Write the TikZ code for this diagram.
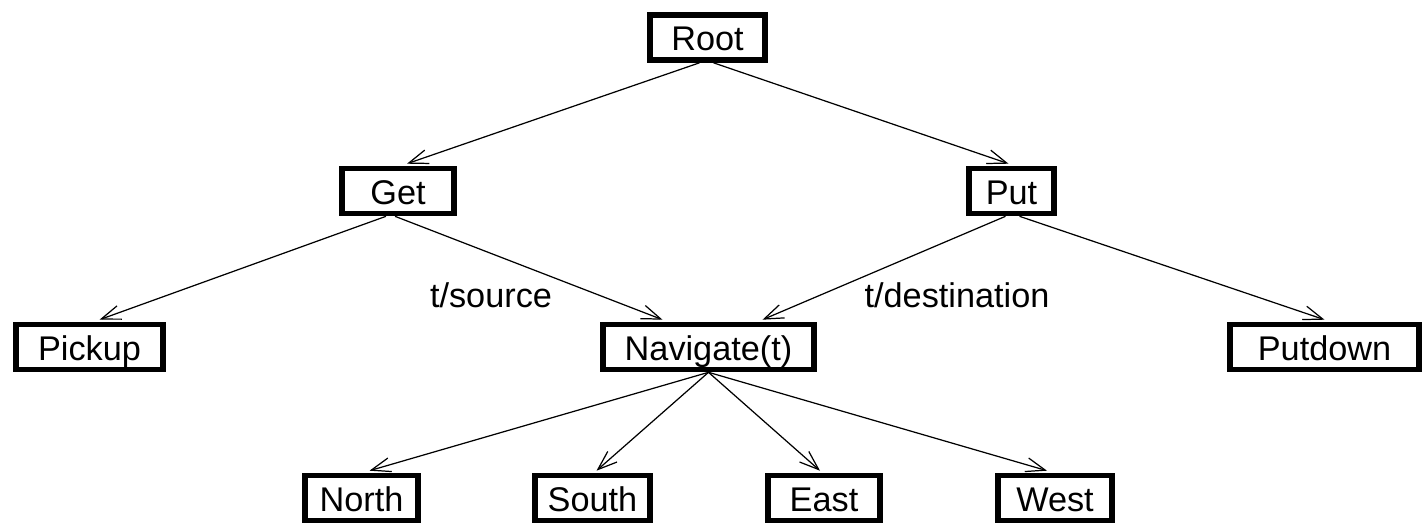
\documentclass[tikz,border=0pt]{standalone}
\usepackage{fontspec}
\setmainfont{Liberation Sans}
\usetikzlibrary{arrows.meta,calc}
\tikzset{
  box/.style={draw=black, line width=3.2pt, fill=white, inner sep=0pt,
    minimum height=0.9cm, text height=17pt, text depth=2pt,
    font=\fontsize{19.5}{22}\selectfont},
  edge/.style={line width=0.7pt, -{Straight Barb[length=11pt,width=8pt,line width=0.7pt]}},
  lbl/.style={font=\fontsize{19.5}{22}\selectfont, inner sep=0pt}
}
\begin{document}
\begin{tikzpicture}[x=0.02cm,y=-0.02cm]
\useasboundingbox (0,0) rectangle (1427,524);
\node[box, minimum width=2.30cm] (root) at (707.5,37.5) {Root};
\node[box, minimum width=2.24cm] (get) at (398,191) {Get};
\node[box, minimum width=1.70cm] (put) at (1011.5,191) {Put};
\node[box, minimum width=2.94cm] (pickup) at (89.5,347) {Pickup};
\node[box, minimum width=4.22cm] (nav) at (708.5,347) {Navigate(t)};
\node[box, minimum width=3.78cm] (putdown) at (1324.5,347) {Putdown};
\node[box, minimum width=2.26cm] (north) at (361.5,498) {North};
\node[box, minimum width=2.30cm] (south) at (592.5,498) {South};
\node[box, minimum width=2.24cm] (east) at (824,498) {East};
\node[box, minimum width=2.28cm] (west) at (1055,498) {West};

\draw[edge] ($(root.south)+(-8,0)$) -- ($(get.north)+(9,-2)$);
\draw[edge] ($(root.south)+(6,0)$) -- ($(put.north)+(-3,-2)$);
\draw[edge] ($(get.south)+(-12,0)$) -- ($(pickup.north)+(10,-2)$);
\draw[edge] ($(get.south)+(-3,0)$) -- ($(nav.north)+(-46,-2)$);
\draw[edge] ($(put.south)+(-6,0)$) -- ($(nav.north)+(54,-2)$);
\draw[edge] ($(put.south)+(8,0)$) -- ($(putdown.north)+(0,-2)$);
\draw[edge] (nav.south) -- ($(north.north)+(8,-2)$);
\draw[edge] (nav.south) -- ($(south.north)+(4,-2)$);
\draw[edge] (nav.south) -- ($(east.north)+(-4,-2)$);
\draw[edge] (nav.south) -- ($(west.north)+(-8,-2)$);

\node[lbl] (src) at (491,295) {t/source};
\node[lbl] (dst) at (957,295) {t/destination};
\end{tikzpicture}
\end{document}
